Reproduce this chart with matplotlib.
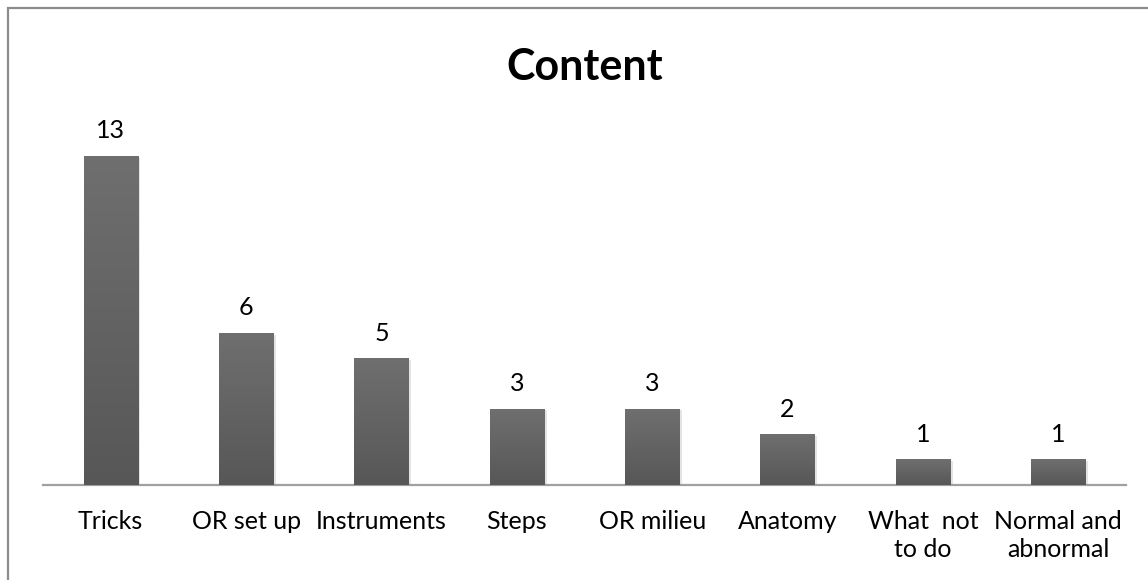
import numpy as np
import matplotlib.pyplot as plt
from matplotlib.patches import Rectangle

categories = ['Tricks', 'OR set up', 'Instruments', 'Steps', 'OR milieu',
              'Anatomy', 'What  not\nto do', 'Normal and\nabnormal']
counts = [13, 6, 5, 3, 3, 2, 1, 1]

plt.rcParams['font.family'] = ['Lato', 'DejaVu Sans']

fig = plt.figure(figsize=(11.48, 5.8), dpi=100)
ax = fig.add_axes([43 / 1148, 95 / 580, (1126 - 43) / 1148, 354 / 580])

x = np.arange(len(categories))
bars = ax.bar(x, counts, width=0.4, color='#646464', zorder=2)

# vertical grey gradient over each bar, light at top
grad = np.linspace(0, 1, 256).reshape(-1, 1)
cmap = plt.matplotlib.colors.LinearSegmentedColormap.from_list('g', ['#575757', '#6f6f6f'])
for b in bars:
    x0, w, h = b.get_x(), b.get_width(), b.get_height()
    # soft shadow to the right
    ax.add_patch(Rectangle((x0 + 0.01, 0), w + 0.01, h - 0.05,
                           color='#e4e4e4', zorder=1, lw=0))
    ax.imshow(grad, extent=[x0, x0 + w, 0, h], origin='lower', cmap=cmap,
              aspect='auto', zorder=3)
    ax.annotate(str(int(h)), (x0 + w / 2, h), xytext=(0, 10),
                textcoords='offset points', ha='center', va='bottom',
                fontsize=18, color='black')

ax.set_xlim(-0.5, len(categories) - 0.5)
ax.set_ylim(0, 14)
ax.set_xticks(x)
ax.set_xticklabels(categories, fontsize=18, linespacing=1.25)
ax.tick_params(axis='x', length=0, pad=18)
ax.set_yticks([])
for s in ['top', 'right', 'left']:
    ax.spines[s].set_visible(False)
ax.spines['bottom'].set_color('#a0a0a0')
ax.spines['bottom'].set_linewidth(1.6)

fig.text(585 / 1148, 1 - 67 / 580, 'Content', ha='center', va='center',
         fontsize=31, fontweight='bold')

# chart frame
fig.patches.append(Rectangle((8 / 1148, -0.1), 1.2, 1 - 8 / 580 + 0.1,
                             transform=fig.transFigure, fill=False,
                             edgecolor='#8c8c8c', lw=1.6))

fig.savefig('out.png', dpi=100)
